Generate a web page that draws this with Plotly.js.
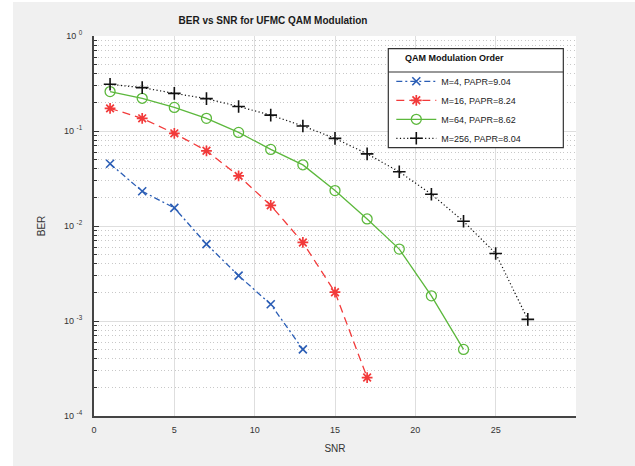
<!DOCTYPE html>
<html>
<head>
<meta charset="utf-8">
<script src="https://cdn.plot.ly/plotly-3.0.1.min.js"></script>
<style>
html, body { margin: 0; padding: 0; background: #ffffff; width: 635px; height: 466px; overflow: hidden; }
#chart { position: absolute; left: 13px; top: 2px; width: 622px; height: 464px; }
</style>
</head>
<body>
<div id="chart"></div>
<script>
// ---- Data ----
const seriesNames = ['M=4, PAPR=9.04', 'M=16, PAPR=8.24', 'M=64, PAPR=8.62', 'M=256, PAPR=8.04'];

const snrM4 = [1, 3, 5, 7, 9, 11, 13];
const berM4 = [0.0452, 0.0232, 0.0155, 0.00645, 0.0030, 0.0015, 0.000502];

const snrM16 = [1, 3, 5, 7, 9, 11, 13, 15, 17];
const berM16 = [0.173, 0.136, 0.0945, 0.0619, 0.0337, 0.0165, 0.00671, 0.00201, 0.000254];

const snrM64 = [1, 3, 5, 7, 9, 11, 13, 15, 17, 19, 21, 23];
const berM64 = [0.260, 0.221, 0.177, 0.136, 0.0966, 0.064, 0.0440, 0.0236, 0.01186, 0.00571, 0.00184, 0.000502];

const snrM256 = [1, 3, 5, 7, 9, 11, 13, 15, 17, 19, 21, 23, 25, 27];
const berM256 = [0.310, 0.286, 0.249, 0.219, 0.181, 0.147, 0.113, 0.0836, 0.0575, 0.0372, 0.0216, 0.0112, 0.00514, 0.00104];

const xTickVals = [0, 5, 10, 15, 20, 25];
const xTickText = ['0', '5', '10', '15', '20', '25'];
const yTickVals = [1, 0.1, 0.01, 0.001, 0.0001];
const yTickText = ['10 <sup>0</sup>', '10 <sup>-1</sup>', '10 <sup>-2</sup>', '10 <sup>-3</sup>', '10 <sup>-4</sup>'];

const chartTitle = 'BER vs SNR for UFMC QAM Modulation';
const xTitle = 'SNR';
const yTitle = 'BER';
const legendTitle = 'QAM Modulation Order';

// minor log ticks (2..9 per decade)
const yMinor = [];
for (let d = -4; d < 0; d++) {
  for (let k = 2; k <= 9; k++) yMinor.push(k * Math.pow(10, d));
}

const FONT = 'Liberation Sans, Arial, Helvetica, sans-serif';

const traces = [
  {
    x: snrM4, y: berM4, name: seriesNames[0], type: 'scatter', mode: 'lines+markers',
    line: { color: '#2a5db5', width: 1.3, dash: '6px,3px,2px,3px' },
    marker: { symbol: 'x-thin', size: 8, line: { color: '#2a5db5', width: 1.6 } }
  },
  {
    x: snrM16, y: berM16, name: seriesNames[1], type: 'scatter', mode: 'lines+markers',
    line: { color: '#f23a3a', width: 1.3, dash: '8px,5px' },
    marker: { symbol: 'asterisk', size: 9, line: { color: '#f23a3a', width: 1.7 } }
  },
  {
    x: snrM64, y: berM64, name: seriesNames[2], type: 'scatter', mode: 'lines+markers',
    line: { color: '#5cb83c', width: 1.3 },
    marker: { symbol: 'circle-open', size: 10, color: '#5cb83c', line: { color: '#5cb83c', width: 1.3 } }
  },
  {
    x: snrM256, y: berM256, name: seriesNames[3], type: 'scatter', mode: 'lines+markers',
    line: { color: '#111111', width: 1.2, dash: '1.2px,2.4px' },
    marker: { symbol: 'cross-thin', size: 9, line: { color: '#111111', width: 1.6 } }
  }
];

const lx0 = 0.6106, lx1 = 0.9737, ly0 = 0.7063, ly1 = 0.9668, lyDiv = 0.9053;

const layout = {
  width: 622, height: 464,
  margin: { l: 81, r: 59, t: 34, b: 50, pad: 0 },
  paper_bgcolor: '#f0f0f0',
  plot_bgcolor: '#ffffff',
  font: { family: FONT, size: 9, color: '#333333' },
  title: {
    text: '<b>' + chartTitle + '</b>',
    font: { family: FONT, size: 10, color: '#1a1a1a' },
    xref: 'container', x: 0.418, xanchor: 'center',
    yref: 'container', y: 0.961, yanchor: 'middle'
  },
  showlegend: true,
  legend: {
    x: 0.6168, y: 0.919, xanchor: 'left', yanchor: 'top',
    bgcolor: 'rgba(0,0,0,0)', borderwidth: 0,
    font: { family: FONT, size: 9, color: '#222222' },
    itemwidth: 40
  },
  annotations: [
    { xref: 'paper', yref: 'paper', x: 0.6417, y: 0.9432, xanchor: 'left', yanchor: 'middle',
      text: '<b>' + legendTitle + '</b>', showarrow: false,
      font: { family: FONT, size: 9, color: '#111111' } }
  ],
  xaxis: {
    range: [0, 30], tickmode: 'array', tickvals: xTickVals, ticktext: xTickText,
    showgrid: true, gridcolor: '#dedede', gridwidth: 1,
    zeroline: false, showline: true, linecolor: '#444444', linewidth: 2,
    ticks: '', ticklabelstandoff: 4,
    tickfont: { family: FONT, size: 9, color: '#333333' },
    title: { text: xTitle, font: { family: FONT, size: 10, color: '#333333' }, standoff: 11 }
  },
  yaxis: {
    type: 'log', range: [-4, 0], tickmode: 'array', tickvals: yTickVals, ticktext: yTickText,
    showgrid: true, gridcolor: '#dedede', gridwidth: 1,
    zeroline: false, showline: true, linecolor: '#444444', linewidth: 2,
    ticks: 'inside', ticklen: 5, tickcolor: '#333333', tickwidth: 1,
    ticklabelstandoff: 8,
    tickfont: { family: FONT, size: 9, color: '#333333' },
    minor: {
      tickmode: 'array', tickvals: yMinor, ticks: 'inside', ticklen: 3, tickcolor: '#333333', tickwidth: 1,
      showgrid: true, gridcolor: '#c8c8c8', griddash: '1px,2.5px', gridwidth: 1
    },
    title: { text: yTitle, font: { family: FONT, size: 10, color: '#333333' }, standoff: 17 }
  },
  shapes: [
    { type: 'rect', xref: 'paper', yref: 'paper', x0: lx0, x1: lx1, y0: ly0, y1: ly1,
      fillcolor: '#ffffff', line: { color: '#333333', width: 1.2 }, layer: 'above' },
    { type: 'line', xref: 'paper', yref: 'paper', x0: lx0, x1: lx1, y0: lyDiv, y1: lyDiv,
      line: { color: '#333333', width: 1.2 }, layer: 'above' }
  ]
};

Plotly.newPlot('chart', traces, layout, { displayModeBar: false, staticPlot: true });
</script>
</body>
</html>
